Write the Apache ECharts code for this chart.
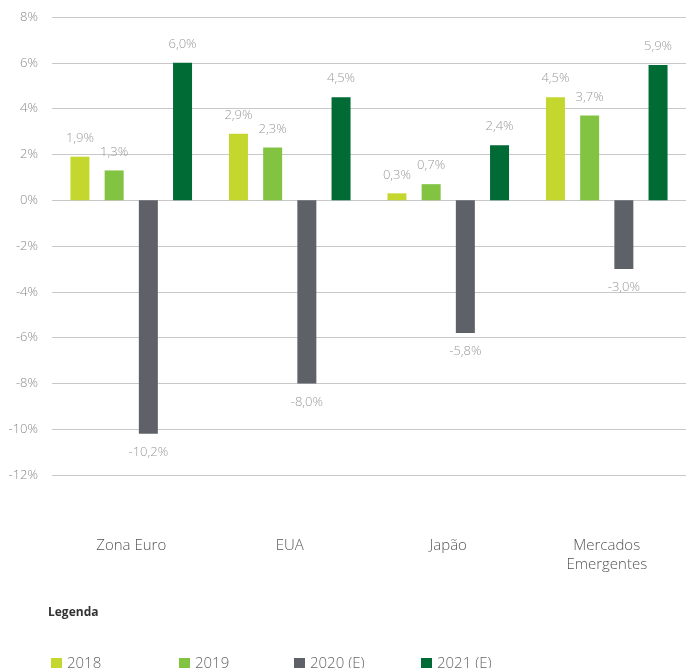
<!DOCTYPE html>
<html>
<head>
<meta charset="utf-8">
<script src="https://cdn.jsdelivr.net/npm/echarts@6/dist/echarts.min.js"></script>
<style>
  html, body { margin: 0; padding: 0; background: #fff; }
  #main { width: 689px; height: 668px; }
</style>
</head>
<body>
<div id="main"></div>
<script>
var regions = ['Zona Euro', 'EUA', 'Japão', 'Mercados\nEmergentes']
var years = ['2018', '2019', '2020 (E)', '2021 (E)']
var v2018 = [1.9, 2.9, 0.3, 4.5]
var v2019 = [1.3, 2.3, 0.7, 3.7]
var v2020 = [-10.2, -8.0, -5.8, -3.0]
var v2021 = [6.0, 4.5, 2.4, 5.9]
var colors = ['#c4d72e', '#82c341', '#5e6268', '#006b35']

var font = '"Open Sans", sans-serif'
var chart = echarts.init(document.getElementById('main'))

function fmt(p) {
  return p.value.toFixed(1).replace('.', ',') + '%'
}

function makeSeries(name, data, color) {
  return {
    name: name,
    type: 'bar',
    data: data.map(function (v) {
      return {
        value: v,
        label: { position: v < 0 ? 'bottom' : 'top' },
      }
    }),
    barWidth: 19,
    barGap: '80%',
    itemStyle: { color: color },
    label: {
      show: true,
      distance: 12,
      formatter: fmt,
      color: '#9a9a9a',
      fontSize: 13,
      fontWeight: 300,
      fontFamily: font,
    },
  }
}

var legendLefts = [46, 174, 289, 416]
var legends = years.map(function (y, i) {
  return {
    data: [y],
    left: legendLefts[i],
    top: 651,
    icon: 'rect',
    itemWidth: 11,
    itemHeight: 11,
    textStyle: { color: '#666', fontSize: 15, fontWeight: 300, fontFamily: font },
  }
})

var option = {
  color: colors,
  textStyle: { fontFamily: font },
  title: {
    text: 'Legenda',
    left: 43,
    top: 602,
    textStyle: { fontSize: 12, fontWeight: 'bold', color: '#333', fontFamily: font },
  },
  legend: legends,
  grid: { left: 52, right: 3, top: 17, bottom: 193 },
  xAxis: {
    type: 'category',
    data: regions,
    axisLine: { show: false, onZero: false },
    axisTick: { show: false },
    axisLabel: { margin: 61, color: '#555', fontSize: 15, fontWeight: 300, fontFamily: font, lineHeight: 19 },
  },
  yAxis: {
    type: 'value',
    min: -12,
    max: 8,
    interval: 2,
    axisLine: { show: false },
    axisTick: { show: false },
    axisLabel: {
      formatter: '{value}%',
      color: '#8a8a8a',
      fontSize: 13,
      fontWeight: 300,
      margin: 14,
      fontFamily: font,
    },
    splitLine: { lineStyle: { color: '#c8c8c8', width: 1 } },
  },
  series: [
    makeSeries(years[0], v2018, colors[0]),
    makeSeries(years[1], v2019, colors[1]),
    makeSeries(years[2], v2020, colors[2]),
    makeSeries(years[3], v2021, colors[3]),
  ],
}

chart.setOption(option)
</script>
</body>
</html>
